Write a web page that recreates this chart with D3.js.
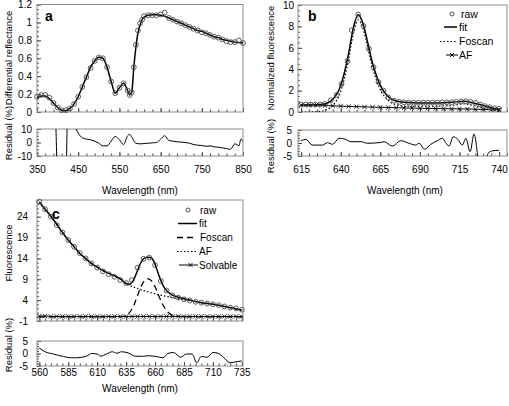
<!DOCTYPE html>
<html><head><meta charset="utf-8">
<script src="https://cdn.jsdelivr.net/npm/d3@7"></script>
<style>
body{margin:0;background:#fff}
svg{display:block}
text{font-family:"Liberation Sans",Arial,Helvetica,sans-serif;fill:#000}
</style>
</head><body>
<svg id="chart" width="509" height="406"></svg>
<script>
// ---------- Panel a: differential reflectance ----------
const wlA   = [350,360,370,380,390,400,410,420,430,440,450,460,470,480,490,500,510,520,530,540,550,560,570,575,580,585,590,595,600,605,610,620,630,640,650,660,670,680,690,700,710,720,730,740,750,760,770,780,790,800,810,820,830,840,850];
const fitA  = [.16,.18,.18,.15,.10,.05,.02,.015,.04,.09,.17,.28,.39,.50,.57,.61,.60,.50,.34,.21,.27,.32,.24,.19,.22,.50,.72,.88,.97,1.03,1.06,1.08,1.085,1.085,1.08,1.07,1.05,1.03,1.01,.99,.97,.95,.93,.91,.90,.88,.86,.84,.83,.81,.80,.79,.78,.775,.77];
const rawA  = [.17,.19,.19,.16,.10,.05,.02,.02,.04,.09,.17,.28,.39,.49,.57,.61,.60,.50,.34,.21,.27,.32,.24,.19,.22,.50,.75,.91,.99,1.03,1.07,1.08,1.08,1.08,1.09,1.11,1.05,1.03,1.01,.99,.97,.95,.93,.91,.89,.88,.86,.84,.83,.81,.79,.78,.78,.80,.77];
const wlResA = [350,360,370,380,390,395,400,410,420,425,430,440,445,450,460,470,480,490,500,510,520,530,540,550,560,570,575,580,590,600,610,620,630,640,650,660,670,680,690,700,710,720,730,740,750,760,770,780,790,800,810,820,830,835,840,845,850];
const resA   = [20,25,25,20,18,15,-30,-40,-30,30,25,14,10,7,3.5,2.5,2,1,-0.5,-2.5,-2.5,1,4.5,2,-1.5,5,6,4,-0.5,-1,-0.8,-0.5,-0.3,0,2.5,5,1.5,1,0.5,0.3,0,-0.5,-1.5,-2,-2.2,-2.8,-2.5,-3.2,-3.5,-4,-4.5,-5,-1,-1.5,-2.5,2.5,1];
const yTicksA = [0,0.2,0.4,0.6,0.8,1,1.2];
const xTicksA = [350,450,550,650,750,850];

// ---------- Panel b: normalized fluorescence ----------
const wlFitB = [615,620,625,630,633,636,639,642,645,648,651,654,657,660,663,666,669,672,676,680,690,700,710,718,725,730,735,740];
const fitB   = [0.65,0.65,0.68,0.75,0.95,1.35,2.1,3.5,5.5,7.9,9.1,8.3,6.5,4.6,3.2,2.2,1.6,1.2,1.0,0.9,0.85,0.85,0.9,1.0,0.8,0.6,0.4,0.25];
const foscanB = [0,0,0.03,0.15,0.37,0.8,1.55,2.95,4.95,7.35,8.6,7.85,6.05,4.2,2.8,1.8,1.25,0.85,0.65,0.55,0.55,0.55,0.62,0.75,0.55,0.38,0.2,0.05];
const wlAFB = [615,620,625,630,635,640,645,650,655,660,665,670,675,680,685,690,695,700,705,710,715,720,725,730,735,740];
const afB   = [0.65,0.65,0.65,0.6,0.58,0.55,0.52,0.5,0.48,0.46,0.44,0.42,0.4,0.38,0.37,0.35,0.34,0.32,0.31,0.3,0.29,0.28,0.26,0.24,0.22,0.2];
const wlRawB = [615,618,621,624,627,630,633.7,637.5,640.5,644.3,647,651,654.4,657.8,660.7,663.8,667,670,673.7,677,680,683,686,689,692,695,698,701,704,707,710,713,716,719,722,725,728,731,734,737,740];
const rawB   = [0.7,0.7,0.7,0.7,0.7,0.75,1.1,1.6,2.6,4.75,7.65,9.1,8.05,5.9,4.2,2.8,2.0,1.35,1.05,0.95,0.9,0.88,0.87,0.87,0.87,0.87,0.88,0.88,0.9,0.9,0.92,0.95,0.98,1.0,0.95,0.85,0.7,0.55,0.45,0.35,0.3];
const wlResB = [615,618,622,628.5,631.6,634.8,639,642,646.4,652.7,656.9,665.3,667.4,672.6,677.9,683,687.4,689.5,693,696.9,701,704.2,706.3,708.4,711,714,716.8,719,721.7,724.2,726.7,728,731,733,736,740];
const resB   = [0.9,1.4,-0.8,-0.8,0.1,-0.5,1.8,1.6,0.5,0.5,-0.1,0.2,0.5,-1.2,0.9,-0.1,-0.8,-0.1,-2.4,-0.5,0.9,1.8,0.1,-1.2,2.4,1.4,-0.8,1.8,-3.3,3.5,-6,-12,-10,-4,-3,-2.8];
const yTicksB = [0,2,4,6,8,10];
const xTicksB = [615,640,665,690,715,740];

// ---------- Panel c: fluorescence ----------
const wlFitC = [560,565,570,575,580,585,590,595,600,605,610,615,620,625,630,635,638,641,644,647,650,653,656,659,662,665,668,671,675,680,690,700,710,720,730,735];
const fitC   = [27.5,25.8,24.1,22.2,20.2,18.4,16.8,15.2,14.0,12.8,11.9,11.1,10.4,9.8,9.1,8.0,7.8,8.6,10.5,12.6,13.9,14.3,14.2,13.3,11.0,8.7,7.0,6.0,5.2,4.7,4.0,3.4,3.0,2.5,1.9,1.6];
const wlC    = [560,565,570,575,580,585,590,595,600,605,610,615,620,625,630,635,640,645,650,655,660,665,670,675,680,685,690,695,700,705,710,715,720,725,730,735];
const afC    = [27.5,25.8,24.1,22.2,20.2,18.4,16.8,15.2,14.0,12.8,11.9,11.1,10.4,9.8,9.1,7.9,7.3,6.8,6.3,5.9,5.5,5.2,4.9,4.6,4.3,4.1,3.9,3.6,3.4,3.2,3.0,2.8,2.5,2.2,1.9,1.6];
const solvC  = [0.2,0.2,0.1,0.1,0.1,0.1,0.1,0.1,0.1,0.1,0.1,0.1,0.1,0.1,0.1,0.1,0.1,0.1,0.1,0.1,0.1,0.1,0.1,0.1,0.1,0.1,0.1,0.1,0.1,0.1,0.1,0.1,0.1,0.1,0.1,0.1];
const rawC   = [27.6,25.8,24.0,22.0,20.2,18.4,16.8,15.3,14.0,12.8,11.8,10.9,10.2,9.6,8.8,8.1,8.8,11.8,13.9,14.2,12.4,8.6,6.3,5.1,4.6,4.2,3.9,3.6,3.4,3.2,3.0,2.8,2.5,2.2,2.0,1.7];
const wlFosC = [560,570,580,590,600,610,620,630,633,636,639,642,645,648,651,654,657,660,663,666,669,672,675,680,690,700,710,720,735];
const fosC   = [0,0,0,0,0,0,0,0,0.1,0.5,1.4,3.0,5.2,7.3,8.7,9.1,8.6,7.2,5.2,3.3,1.9,0.9,0.4,0.1,0,0,0,0,0];
const wlResC = [560,565,572,581,587,592,601,605,610,613,618,623,627,631,637,643,650,654,661,667,671,676,682,687,692,696,700,705,710,715,719,725,730,735];
const resC   = [2.2,0.7,-0.2,-1.2,-1.7,-1.7,-1,0,-0.2,-1.1,-0.2,0.7,0.1,0.7,0.2,-1.1,-1.1,-0.9,-1.2,-1.7,0,0.4,-1.5,-0.2,-0.2,-3.7,-1.2,-1.5,0.4,0,-1.5,-3.7,-3.3,-3];
const yTicksC = [-1,4,9,14,19,24];
const xTicksC = [560,585,610,635,660,685,710,735];

const svg = d3.select("#chart");
let clipN = 0;

function range(a,b,s){const r=[];for(let v=a;v<=b+1e-9;v+=s)r.push(+v.toFixed(4));return r;}

function panel(o){
  const x = d3.scaleLinear(o.xd, o.xr);
  const y = d3.scaleLinear(o.yd, o.yr);
  const g = svg.append("g");
  const id = "clp"+(clipN++);
  g.append("clipPath").attr("id",id).append("rect")
    .attr("x",o.xr[0]).attr("y",o.yr[1]).attr("width",o.xr[1]-o.xr[0]).attr("height",o.yr[0]-o.yr[1]);
  const yMin = d3.axisLeft(y).tickValues(o.yMinor).tickSize(-2).tickFormat("");
  g.append("g").attr("transform",`translate(${o.xr[0]},0)`).call(yMin).call(s=>s.select(".domain").remove()).selectAll("line").attr("stroke","#555");
  const xMin = d3.axisBottom(x).tickValues(o.xMinor).tickSize(-2.5).tickFormat("");
  g.append("g").attr("transform",`translate(0,${o.yr[0]})`).call(xMin).call(s=>s.select(".domain").remove()).selectAll("line").attr("stroke","#444");
  const yAx = d3.axisLeft(y).tickValues(o.yTicks).tickSize(-4).tickPadding(o.yPad)
    .tickFormat(o.yFmt || (d=>String(d)));
  const ya = g.append("g").attr("transform",`translate(${o.xr[0]},0)`).call(yAx);
  ya.select(".domain").remove();
  ya.selectAll("line").attr("stroke","#444");
  ya.selectAll("text").attr("font-size",10).attr("font-family",null);
  const xAx = d3.axisBottom(x).tickValues(o.xTicks).tickSize(-4).tickPadding(o.xPad==null?10:o.xPad)
    .tickFormat(o.xLabels ? (d=>String(d)) : "");
  const xa = g.append("g").attr("transform",`translate(0,${o.yr[0]})`).call(xAx);
  xa.select(".domain").remove();
  xa.selectAll("line").attr("stroke","#444");
  xa.selectAll("text").attr("font-size",10).attr("font-family",null);
  g.append("rect").attr("x",o.xr[0]).attr("y",o.yr[1]).attr("width",o.xr[1]-o.xr[0]).attr("height",o.yr[0]-o.yr[1])
    .attr("fill","none").attr("stroke","#8c8c8c").attr("stroke-width",1);
  const plot = g.append("g").attr("clip-path",`url(#${id})`);
  return {x,y,g,plot};
}

function line(p, xs, ys, opts={}){
  const gen = d3.line().x((d,i)=>p.x(xs[i])).y(d=>p.y(d)).curve(d3.curveMonotoneX);
  p.plot.append("path").attr("d",gen(ys)).attr("fill","none")
    .attr("stroke",opts.color||"#000").attr("stroke-width",opts.w||1)
    .attr("stroke-dasharray",opts.dash||null);
}
function circles(p, xs, ys){
  p.g.append("g").selectAll("circle").data(ys).join("circle")
    .attr("cx",(d,i)=>p.x(xs[i])).attr("cy",d=>p.y(d)).attr("r",2.4)
    .attr("fill","none").attr("stroke","#4a4a4a").attr("stroke-width",0.9);
}
function xMarks(p, xs, ys){
  const s=2.2;
  p.plot.append("g").selectAll("path").data(ys).join("path")
    .attr("d",(d,i)=>{const cx=p.x(xs[i]),cy=p.y(d);return `M${cx-s},${cy-s}L${cx+s},${cy+s}M${cx-s},${cy+s}L${cx+s},${cy-s}`;})
    .attr("stroke","#000").attr("stroke-width",0.8);
}
function ylabel(txt,x,cy){
  svg.append("text").attr("transform",`translate(${x},${cy}) rotate(-90)`)
    .attr("text-anchor","middle").attr("font-size",9.5).text(txt);
}
function xlabel(txt,cx,y){
  svg.append("text").attr("x",cx).attr("y",y).attr("text-anchor","middle").attr("font-size",10).text(txt);
}

// ===== Panel a =====
const pA = panel({xd:[350,850],xr:[37,243],yd:[0,1.2],yr:[112,4.5],yTicks:yTicksA,yMinor:range(0,1.2,0.05),
  xTicks:xTicksA,xMinor:range(350,850,20),xLabels:false,yPad:5,yFmt:d=>String(+d.toFixed(1))});
circles(pA, wlA, rawA);
line(pA, wlA, fitA, {w:1.5});
const rA = panel({xd:[350,850],xr:[37,243],yd:[-10,10],yr:[156,129],yTicks:[-10,0,10],yMinor:range(-10,10,2.5),
  xTicks:xTicksA,xMinor:range(350,850,20),xLabels:true,yPad:5});
line(rA, wlResA, resA, {w:1});
svg.append("text").attr("x",45).attr("y",21).attr("font-size",14).attr("font-weight","bold").text("a");
ylabel("Differential reflectance",11.5,58);
ylabel("Residual (%)",11.5,133);
xlabel("Wavelength (nm)",140,194);

// ===== Panel b =====
const pB = panel({xd:[613,745],xr:[298,507],yd:[0,10],yr:[112,5],yTicks:yTicksB,yMinor:range(0,10,0.5),
  xTicks:xTicksB,xMinor:range(615,745,5),xLabels:false,yPad:4});
circles(pB, wlRawB, rawB);
line(pB, wlFitB, foscanB, {w:1.2,dash:"1.5,2"});
line(pB, wlAFB, afB, {w:1});
xMarks(pB, wlAFB, afB);
line(pB, wlFitB, fitB, {w:1.5});
const rB = panel({xd:[613,745],xr:[298,507],yd:[-5,5],yr:[156,130],yTicks:[-5,0,5],yMinor:range(-5,5,1),
  xTicks:xTicksB,xMinor:range(615,745,5),xLabels:true,yPad:6});
line(rB, wlResB, resB, {w:1});
svg.append("text").attr("x",308).attr("y",21).attr("font-size",14).attr("font-weight","bold").text("b");
ylabel("Normalized fluorescence",273.5,58);
ylabel("Residual (%)",273.5,146);
xlabel("Wavelength (nm)",405,194);

{
  const lg = svg.append("g").attr("font-size",10.5);
  lg.append("circle").attr("cx",452).attr("cy",14).attr("r",2).attr("fill","none").attr("stroke","#4a4a4a");
  lg.append("text").attr("x",461).attr("y",17.5).text("raw");
  lg.append("line").attr("x1",444).attr("x2",457).attr("y1",27).attr("y2",27).attr("stroke","#000").attr("stroke-width",1.5);
  lg.append("text").attr("x",459).attr("y",30.5).text("fit");
  lg.append("line").attr("x1",440).attr("x2",457).attr("y1",41.5).attr("y2",41.5).attr("stroke","#000").attr("stroke-width",1.2).attr("stroke-dasharray","1.5,2");
  lg.append("text").attr("x",459).attr("y",45).text("Foscan");
  lg.append("line").attr("x1",446).attr("x2",458).attr("y1",55).attr("y2",55).attr("stroke","#000");
  lg.append("path").attr("d","M450,53L454,57M450,57L454,53").attr("stroke","#000").attr("stroke-width",0.9);
  lg.append("text").attr("x",459).attr("y",58.5).text("AF");
}

// ===== Panel c =====
const pC = panel({xd:[558,736],xr:[37,243],yd:[-1,28],yr:[321,200],yTicks:yTicksC,yMinor:range(-1,28,1),
  xTicks:xTicksC,xMinor:range(560,735,5),xLabels:false,yPad:9});
circles(pC, wlC, rawC);
line(pC, wlC, afC, {w:1.2,dash:"1.5,2"});
line(pC, wlFosC, fosC, {w:1.3,dash:"6,4"});
line(pC, wlC, solvC, {w:1});
xMarks(pC, wlC, solvC);
line(pC, wlFitC, fitC, {w:1.5});
const rC = panel({xd:[558,736],xr:[37,243],yd:[-5,5],yr:[366,341],yTicks:[-5,0,5],yMinor:range(-5,5,1),
  xTicks:xTicksC,xMinor:range(560,735,5),xLabels:true,yPad:9,xPad:3});
line(rC, wlResC, resC, {w:1});
svg.append("text").attr("x",52).attr("y",218.5).attr("font-size",14).attr("font-weight","bold").text("c");
ylabel("Fluorescence",11.5,253);
ylabel("Residual (%)",11.5,345);
xlabel("Wavelength (nm)",140,392);

{
  const lg = svg.append("g").attr("font-size",10);
  lg.append("circle").attr("cx",188).attr("cy",210).attr("r",2).attr("fill","none").attr("stroke","#4a4a4a");
  lg.append("text").attr("x",200).attr("y",213.5).text("raw");
  lg.append("line").attr("x1",178).attr("x2",197).attr("y1",223.5).attr("y2",223.5).attr("stroke","#000").attr("stroke-width",1.5);
  lg.append("text").attr("x",199).attr("y",227).text("fit");
  lg.append("line").attr("x1",177).attr("x2",196).attr("y1",237.5).attr("y2",237.5).attr("stroke","#000").attr("stroke-width",1.3).attr("stroke-dasharray","6,4");
  lg.append("text").attr("x",200).attr("y",241).text("Foscan");
  lg.append("line").attr("x1",177).attr("x2",196).attr("y1",251.5).attr("y2",251.5).attr("stroke","#000").attr("stroke-width",1.2).attr("stroke-dasharray","1.5,2");
  lg.append("text").attr("x",199).attr("y",255).text("AF");
  lg.append("line").attr("x1",179).attr("x2",198).attr("y1",265).attr("y2",265).attr("stroke","#000");
  lg.append("path").attr("d","M188.5,263L192.5,267M188.5,267L192.5,263").attr("stroke","#000").attr("stroke-width",0.9);
  lg.append("text").attr("x",199).attr("y",268.5).text("Solvable");
}
</script>
</body></html>
